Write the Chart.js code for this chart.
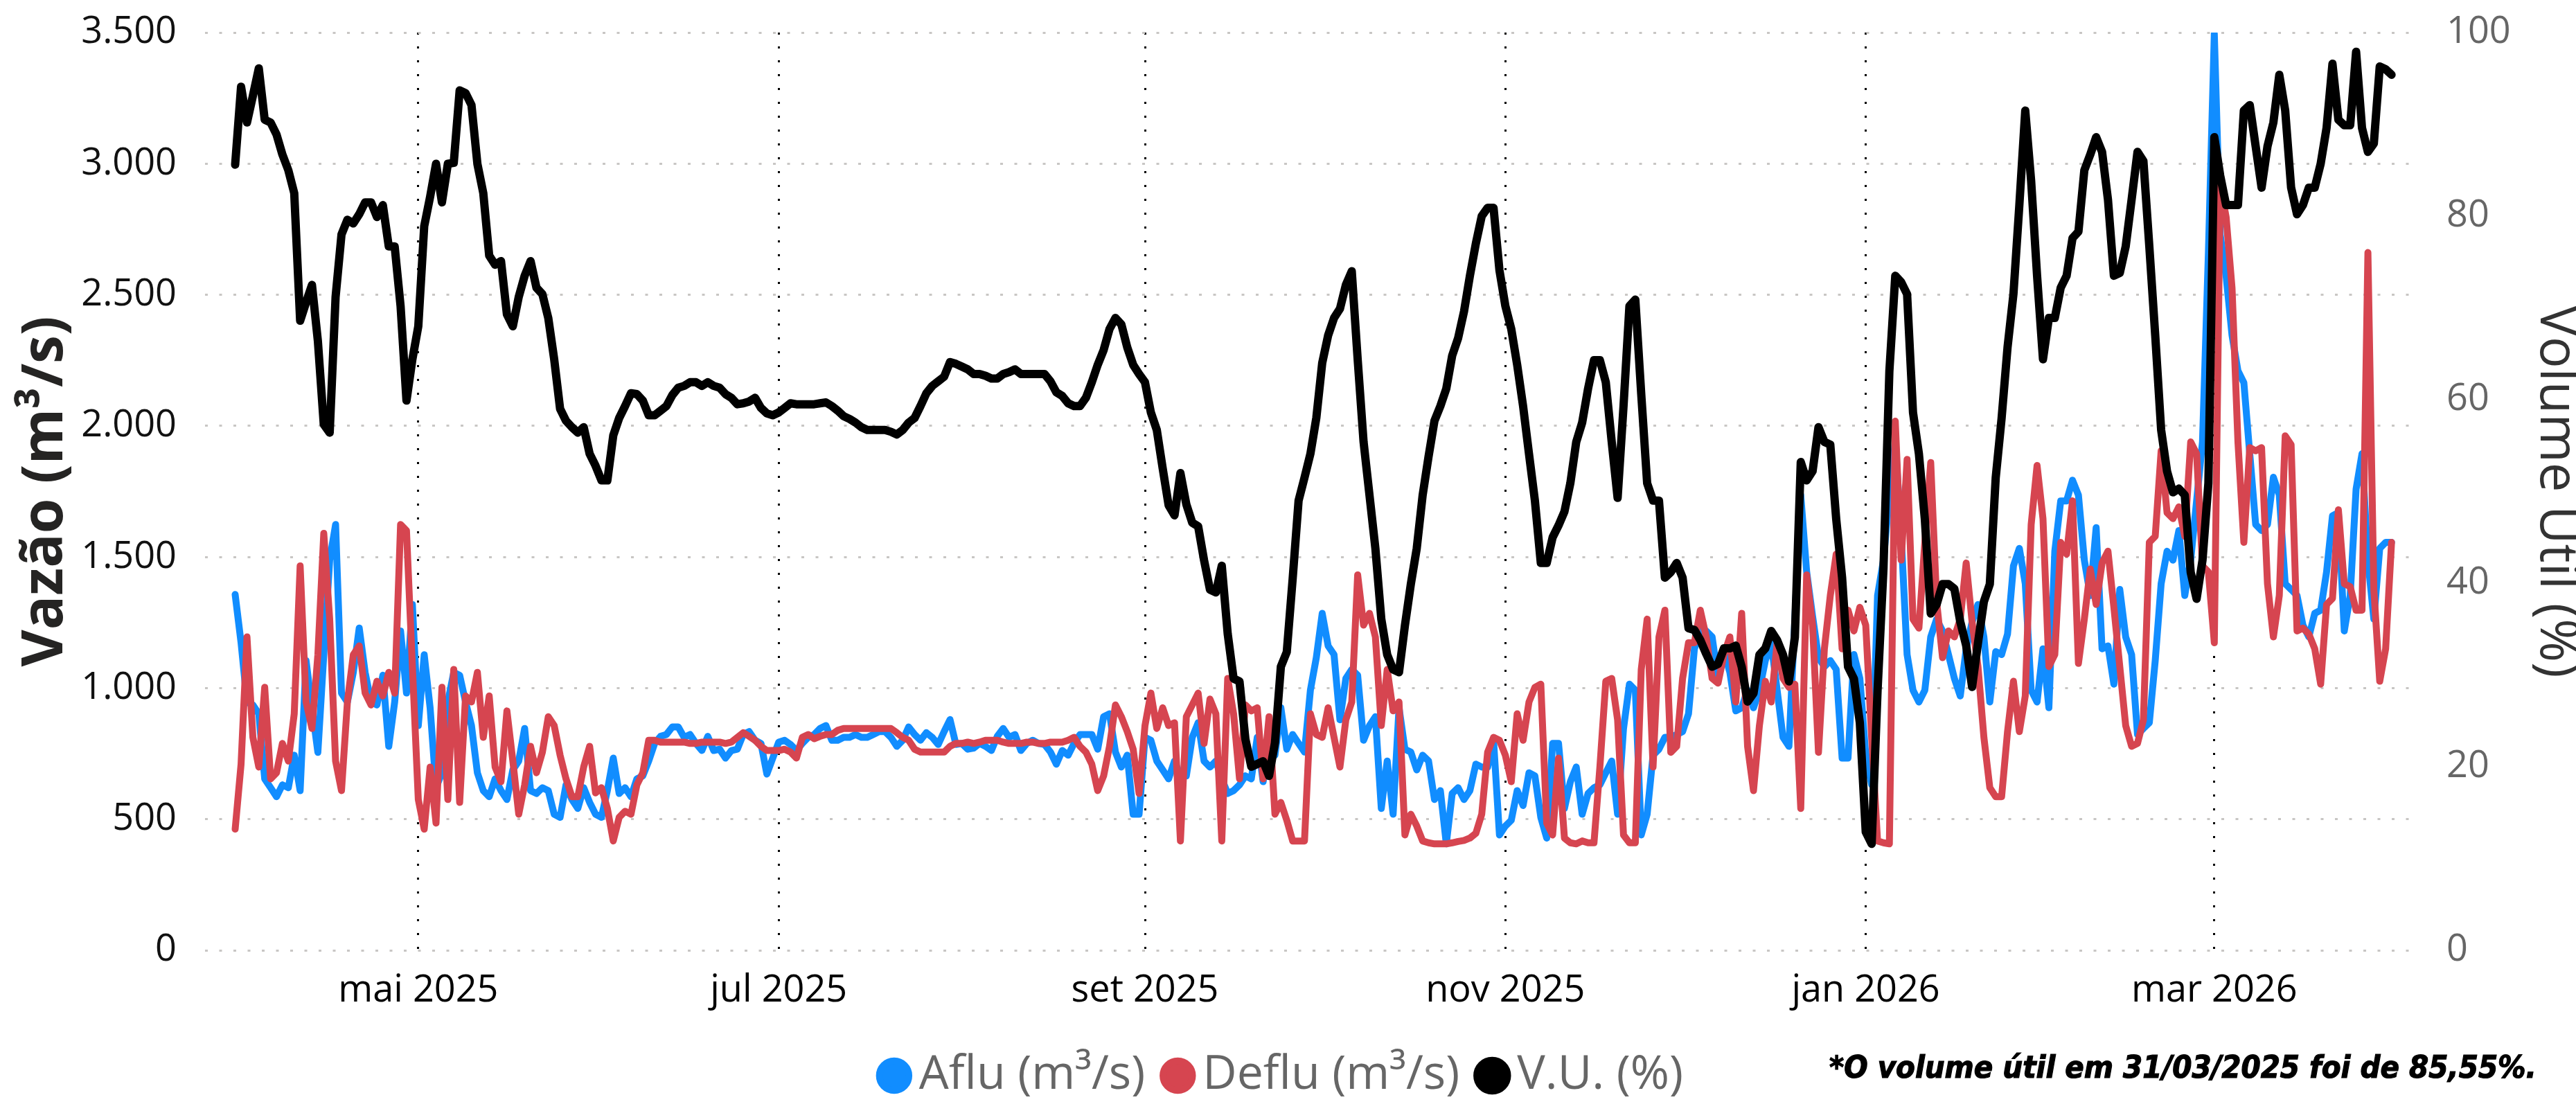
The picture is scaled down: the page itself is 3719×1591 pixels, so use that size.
<!DOCTYPE html>
<html lang="pt-BR">
<head>
<meta charset="utf-8">
<title>Vazão e Volume Útil</title>
<script src="https://cdn.jsdelivr.net/npm/chart.js@4.4.1/dist/chart.umd.min.js"></script>
<style>
  html, body { margin: 0; padding: 0; background: #fff; overflow: hidden; }
  #wrap { position: relative; width: 3719px; height: 1591px; }
  #c { position: absolute; left: 0; top: 0; }
  #nota {
    position: absolute; right: 57px; top: 1518px;
    font-family: "Liberation Sans Narrow", "DejaVu Sans Condensed", sans-serif;
    font-style: italic; font-weight: 900; font-size: 45px; color: #000;
    -webkit-text-stroke: 1.2px #000;
    white-space: nowrap; line-height: 1;
  }
</style>
</head>
<body>
<div id="wrap">
  <canvas id="c" width="3719" height="1591"></canvas>
  <div id="nota">*O volume útil em 31/03/2025 foi de 85,55%.</div>
</div>
<script>
// dia 0 = 01/05/2025; a série começa em 31/03/2025 (dia -31) e vai até 31/03/2026
const startDay = -31;

const tickDays   = [0, 61, 123, 184, 245, 304];
const tickLabels = ["mai 2025", "jul 2025", "set 2025", "nov 2025", "jan 2026", "mar 2026"];

// Afluência (m³/s), um valor por dia
const aflu = [
  1357, 1173, 947, 936, 902, 654, 620, 586, 631, 620,
  744, 609, 1105, 925, 755, 1127, 1488, 1624, 981, 947,
  1060, 1229, 1060, 947, 936, 1049, 778, 947, 1218, 981,
  1319, 857, 1127, 925, 620, 677, 947, 1060, 1049, 947,
  857, 677, 609, 586, 654, 609, 575, 688, 722, 846,
  609, 598, 620, 609, 519, 507, 631, 575, 541, 620,
  564, 519, 507, 609, 733, 598, 620, 586, 654, 665,
  722, 789, 816, 823, 852, 852, 812, 823, 789, 762,
  816, 762, 767, 733, 762, 767, 823, 834, 801, 789,
  672, 733, 794, 801, 785, 762, 789, 812, 823, 846,
  857, 801, 801, 812, 812, 823, 812, 812, 823, 834,
  834, 812, 778, 801, 852, 823, 801, 830, 812, 785,
  834, 880, 785, 789, 767, 771, 789, 778, 762, 816,
  846, 812, 823, 762, 789, 801, 789, 785, 756, 710,
  762, 744, 789, 823, 823, 823, 767, 891, 902, 756,
  699, 744, 519, 519, 812, 801, 722, 688, 654, 722,
  665, 665, 812, 868, 722, 699, 722, 654, 598, 609,
  631, 665, 654, 812, 643, 778, 744, 925, 767, 823,
  789, 756, 992, 1116, 1285, 1161, 1128, 879, 1037, 1071,
  1049, 801, 857, 891, 541, 722, 519, 925, 767, 756,
  688, 744, 722, 575, 609, 406, 598, 620, 575, 609,
  710, 699, 699, 801, 440, 474, 496, 609, 552, 677,
  665, 507, 428, 789, 789, 541, 643, 699, 519, 598,
  620, 631, 677, 722, 519, 846, 1015, 992, 440, 519,
  744, 767, 812, 812, 823, 834, 902, 1150, 1222, 1218,
  1195, 1037, 1139, 1060, 913, 925, 992, 925, 992, 1105,
  1173, 992, 812, 778, 1263, 1736, 1443, 1274, 1116, 1082,
  1105, 1071, 733, 733, 1128, 1037, 744, 631, 1353, 1488,
  1736, 1939, 1579, 1128, 992, 947, 992, 1195, 1263, 1218,
  1128, 1037, 970, 1150, 1252, 1319, 1195, 947, 1139, 1128,
  1206, 1466, 1533, 1398, 992, 947, 1150, 925, 1522, 1714,
  1714, 1793, 1736, 1488, 1353, 1612, 1150, 1161, 1015, 1376,
  1195, 1128, 823, 846, 868, 1105, 1398, 1522, 1488, 1601,
  1353, 1488, 1714, 1939, 2661, 3495, 2729, 2571, 2345, 2210,
  2165, 1894, 1624, 1601, 1624, 1804, 1736, 1398, 1376, 1353,
  1240, 1195, 1285, 1297, 1443, 1657, 1669, 1218, 1353, 1759,
  1894, 1488, 1263, 1533, 1556, 1556
];

// Defluência (m³/s)
const deflu = [
  462, 710, 1195, 812, 699, 1003, 654, 677, 789, 722,
  902, 1466, 947, 846, 1127, 1590, 1263, 722, 609, 947,
  1127, 1161, 981, 936, 1026, 970, 1060, 981, 1624, 1601,
  1082, 575, 462, 699, 485, 1003, 575, 1071, 564, 970,
  947, 1060, 812, 970, 699, 643, 913, 722, 519, 631,
  778, 677, 755, 891, 857, 744, 654, 586, 586, 700,
  778, 600, 620, 541, 417, 507, 530, 519, 631, 677,
  801, 801, 794, 794, 794, 794, 794, 789, 789, 794,
  794, 794, 794, 789, 794, 812, 830, 816, 801, 778,
  762, 762, 762, 767, 756, 733, 812, 823, 807, 816,
  823, 823, 839, 846, 846, 846, 846, 846, 846, 846,
  846, 846, 830, 812, 801, 767, 756, 756, 756, 756,
  756, 778, 789, 789, 794, 789, 794, 801, 801, 801,
  794, 789, 789, 789, 794, 794, 789, 789, 794, 794,
  794, 801, 812, 778, 756, 710, 609, 665, 778, 936,
  891, 834, 767, 598, 857, 981, 846, 925, 857, 868,
  417, 891, 936, 981, 789, 958, 902, 417, 1037, 902,
  654, 936, 913, 925, 654, 891, 519, 564, 496, 417,
  417, 417, 902, 823, 812, 925, 812, 699, 879, 947,
  1432, 1240, 1285, 1195, 857, 1071, 913, 947, 440, 519,
  474, 417, 410, 406, 406, 406, 410, 415, 419, 428,
  446, 519, 756, 812, 801, 744, 643, 902, 801, 947,
  1003, 1015, 485, 440, 733, 428, 410, 406, 417, 410,
  410, 699, 1026, 1037, 879, 440, 410, 410, 1071, 1263,
  699, 1195, 1297, 755, 778, 1037, 1173, 1173, 1297, 1195,
  1037, 1019, 1128, 1195, 947, 1285, 778, 609, 857, 1026,
  947, 1173, 1037, 1003, 1015, 541, 1432, 1240, 755, 1150,
  1353, 1511, 1150, 1297, 1218, 1308, 1240, 812, 417, 410,
  406, 2018, 1488, 1872, 1263, 1229, 1556, 1860, 1330, 1116,
  1218, 1195, 1263, 1477, 1252, 1082, 812, 620, 586, 586,
  834, 1026, 834, 970, 1624, 1849, 1646, 1082, 1128, 1556,
  1511, 1714, 1094, 1263, 1454, 1319, 1477, 1522, 1308, 1082,
  857, 778, 789, 879, 1556, 1579, 1905, 1669, 1646, 1691,
  1579, 1939, 1894, 1466, 1443, 1173, 2920, 2796, 2526, 1939,
  1556, 1917, 1905, 1917, 1398, 1195, 1353, 1962, 1928, 1218,
  1229, 1206, 1150, 1015, 1319, 1342, 1680, 1398, 1387, 1297,
  1297, 2661, 1376, 1026, 1150, 1556
];

// Volume útil (%)
const vu = [
  85.6, 94.1, 90.2, 93.1, 96.1, 90.5, 90.2, 88.9, 86.7, 85.0,
  82.5, 68.6, 70.6, 72.5, 66.4, 57.3, 56.4, 71.2, 78.0, 79.6,
  79.2, 80.2, 81.5, 81.5, 79.9, 81.2, 76.7, 76.7, 70.2, 59.9,
  64.4, 68.0, 78.9, 82.1, 85.7, 81.5, 85.7, 85.8, 93.7, 93.4,
  92.1, 85.7, 82.5, 75.7, 74.7, 75.1, 69.3, 68.0, 71.2, 73.5,
  75.1, 72.2, 71.5, 68.9, 64.4, 59.0, 57.7, 57.0, 56.4, 57.0,
  54.1, 52.8, 51.2, 51.2, 56.1, 58.0, 59.3, 60.7, 60.6, 59.9,
  58.3, 58.3, 58.8, 59.3, 60.5, 61.3, 61.5, 61.9, 61.9, 61.5,
  61.9, 61.5, 61.3, 60.6, 60.2, 59.5, 59.6, 59.8, 60.2, 59.1,
  58.5, 58.3, 58.6, 59.1, 59.6, 59.5, 59.5, 59.5, 59.5, 59.6,
  59.7, 59.3, 58.8, 58.2, 57.9, 57.5, 57.0, 56.7, 56.7, 56.7,
  56.7, 56.5, 56.2, 56.7, 57.5, 58.0, 59.3, 60.7, 61.5, 62.0,
  62.5, 64.1, 63.9, 63.6, 63.3, 62.8, 62.8, 62.6, 62.3, 62.3,
  62.8, 63.0, 63.3, 62.8, 62.8, 62.8, 62.8, 62.8, 62.0, 60.8,
  60.4, 59.6, 59.3, 59.3, 60.2, 61.9, 63.8, 65.4, 67.7, 68.9,
  68.2, 65.7, 63.8, 62.8, 61.9, 58.6, 56.7, 52.5, 48.5, 47.4,
  52.0, 48.6, 46.6, 46.2, 42.5, 39.3, 39.0, 41.9, 34.5, 29.6,
  29.3, 23.0, 20.0, 20.3, 20.6, 19.0, 22.6, 30.9, 32.5, 40.5,
  49.0, 51.5, 54.1, 58.0, 64.0, 67.0, 68.9, 69.9, 72.5, 74.0,
  64.4, 55.4, 49.6, 43.8, 36.1, 32.2, 30.6, 30.3, 35.4, 39.9,
  43.8, 49.6, 53.8, 57.7, 59.3, 61.2, 64.8, 66.7, 69.6, 73.5,
  77.0, 80.0, 80.9, 80.9, 74.1, 70.2, 67.7, 63.8, 59.3, 54.1,
  49.0, 42.2, 42.2, 45.0, 46.3, 47.8, 50.9, 55.4, 57.5, 61.2,
  64.3, 64.3, 61.9, 55.4, 49.3, 59.3, 70.2, 70.9, 60.6, 50.9,
  49.0, 49.0, 40.6, 41.2, 42.2, 40.6, 35.1, 34.9, 33.8, 32.3,
  30.9, 31.2, 32.9, 32.9, 33.2, 30.9, 27.1, 28.0, 32.2, 32.9,
  34.8, 33.8, 32.2, 29.3, 34.1, 53.2, 51.2, 52.2, 57.0, 55.4,
  55.1, 47.0, 40.6, 30.9, 29.6, 24.8, 12.9, 11.6, 28.3, 41.6,
  63.1, 73.5, 72.8, 71.5, 58.6, 54.1, 47.0, 36.7, 37.7, 39.9,
  39.9, 39.4, 35.8, 33.2, 28.7, 33.5, 38.0, 39.9, 51.5, 58.0,
  65.7, 71.5, 81.2, 91.5, 83.8, 73.5, 64.4, 68.9, 68.9, 72.2,
  73.5, 77.6, 78.3, 85.0, 86.7, 88.6, 87.0, 81.8, 73.5, 73.8,
  76.7, 81.8, 87.0, 86.0, 76.7, 67.0, 56.7, 52.2, 49.9, 50.3,
  49.6, 41.2, 38.3, 42.5, 50.9, 88.6, 84.4, 81.2, 81.2, 81.2,
  91.5, 92.1, 87.6, 83.1, 87.6, 90.2, 95.4, 91.5, 83.1, 80.2,
  81.2, 83.1, 83.1, 85.7, 89.6, 96.6, 90.5, 89.9, 89.9, 97.9,
  89.6, 87.0, 87.9, 96.3, 96.0, 95.4
];

const days = vu.map((_, i) => startDay + i);

const FONT = '"Open Sans", "Noto Sans", sans-serif';
Chart.defaults.font.family = FONT;

// 3500 -> "3.500"
const fmtMil = v => String(v).replace(/\B(?=(\d{3})+(?!\d))/g, ".");

const lineStyle = { borderWidth: 10, pointRadius: 0, pointHoverRadius: 0, tension: 0,
                    borderJoinStyle: "round", borderCapStyle: "round" };

// largura fixa do eixo e sem folga vertical extra (a margem de cima vem do layout)
const fixAxis = w => s => { s.width = w; s.paddingTop = 0; s.paddingBottom = 0; };

new Chart(document.getElementById("c").getContext("2d"), {
  type: "line",
  data: {
    labels: days,
    datasets: [
      { ...lineStyle, label: "Aflu (m³/s)",  data: aflu,  borderColor: "#118DFF", backgroundColor: "#118DFF", yAxisID: "y",  order: 3 },
      { ...lineStyle, label: "Deflu (m³/s)", data: deflu, borderColor: "#D64550", backgroundColor: "#D64550", yAxisID: "y",  order: 2 },
      { ...lineStyle, label: "V.U. (%)",     data: vu,    borderColor: "#000000", backgroundColor: "#000000", yAxisID: "y1", order: 1, borderWidth: 12 },
    ],
  },
  options: {
    responsive: false,
    animation: false,
    devicePixelRatio: 1,
    layout: { padding: { top: 47, left: 0, right: 0, bottom: -6 } },
    plugins: {
      tooltip: { enabled: false },
      legend: {
        position: "bottom",
        labels: {
          usePointStyle: true,
          pointStyle: "circle",
          boxWidth: 4,
          boxHeight: 30,
          padding: 45,
          color: "#666666",
          font: { size: 68 },
          sort: (a, b) => a.datasetIndex - b.datasetIndex,
        },
      },
    },
    scales: {
      x: {
        type: "linear",
        min: -36.1,
        max: 337.2,
        afterBuildTicks: s => { s.ticks = tickDays.map(v => ({ value: v })); },
        afterFit: s => { s.height = 102; },
        ticks: {
          autoSkip: false,
          maxRotation: 0,
          padding: 26,
          color: "#000",
          font: { size: 54 },
          callback: v => tickLabels[tickDays.indexOf(v)] || "",
        },
        grid: { color: "#000", lineWidth: 3, drawTicks: false },
        border: { display: false, dash: [3, 17] },
      },
      y: {
        position: "left",
        min: 0,
        max: 3500,
        afterFit: fixAxis(296),
        ticks: {
          stepSize: 500,
          padding: 41,
          color: "#111",
          font: { size: 54 },
          callback: v => fmtMil(v),
        },
        grid: { color: "#C8C6C4", lineWidth: 3, drawTicks: false },
        border: { display: false, dash: [4, 16.5] },
        title: {
          display: true,
          text: "Vazão (m³/s)",
          color: "#252423",
          font: { size: 82, weight: "bold", lineHeight: 1.2 },
          padding: { top: 17, bottom: 0 },
        },
      },
      y1: {
        position: "right",
        min: 0,
        max: 100,
        afterFit: fixAxis(239),
        ticks: {
          stepSize: 20,
          padding: 52,
          color: "#666666",
          font: { size: 54 },
        },
        grid: { display: false, drawTicks: false },
        border: { display: false },
        title: {
          display: true,
          text: "Volume Útil (%)",
          color: "#333333",
          font: { size: 76, lineHeight: 1 },
          padding: { top: -9, bottom: 0 },
        },
      },
    },
  },
});
</script>
</body>
</html>
